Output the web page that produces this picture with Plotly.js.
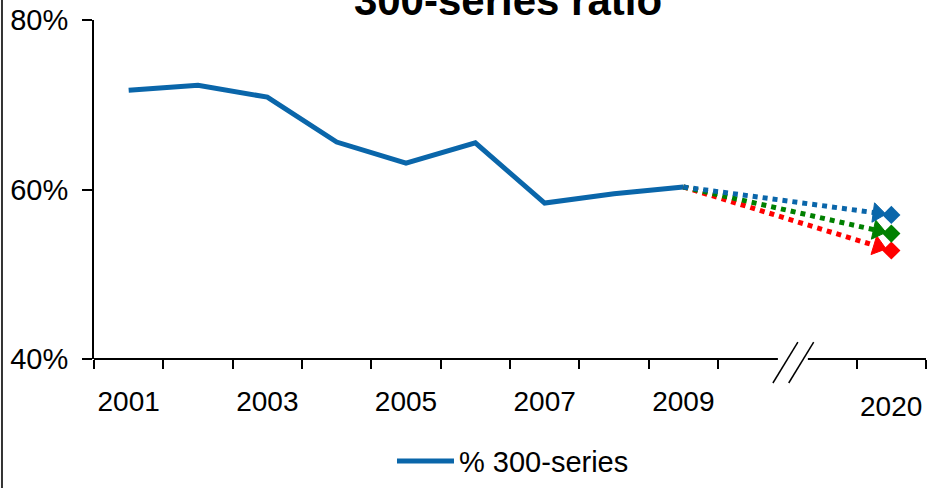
<!DOCTYPE html>
<html>
<head>
<meta charset="utf-8">
<script src="https://cdn.plot.ly/plotly-3.0.1.min.js"></script>
<style>
  html, body { margin: 0; padding: 0; background: #fff; }
  #chart { width: 949px; height: 488px; }
</style>
</head>
<body>
<div id="chart"></div>
<script>
// ---- data ----
const categories = ['2001','2002','2003','2004','2005','2006','2007','2008','2009','gap-a','gap-b','2020'];
const years = ['2001','2002','2003','2004','2005','2006','2007','2008','2009'];
const share300 = [71.7, 72.3, 70.9, 65.6, 63.1, 65.5, 58.4, 59.5, 60.3];
const projYears = ['2009', '2020'];
const projHigh = [60.3, 57.0];
const projMid  = [60.3, 54.8];
const projLow  = [60.3, 52.8];
const tickLabels = ['2001','2003','2005','2007','2009'];
const lastLabel = '2020';
const yTicks = [40, 60, 80];

// ---- styles ----
const BLUE = '#0a66aa', GREEN = '#008000', RED = '#ff0000';
const FONT = 'Liberation Sans, Arial, sans-serif';
const pos = list => list.map(c => categories.indexOf(c));

function projLine(y, color) {
  return { x: pos(projYears), y: y, type: 'scatter', mode: 'lines+markers', showlegend: false,
    line: { color: color, width: 5, dash: 'dot' },
    marker: { color: color, opacity: 1, symbol: ['circle', 'triangle-up'], size: [0, 17], angleref: 'previous',
              standoff: [0, 14], line: { width: 1, color: color } },
    hoverinfo: 'skip' };
}
function diamond(y, color) {
  return { x: pos([projYears[1]]), y: [y[1]], type: 'scatter', mode: 'markers', showlegend: false,
    marker: { color: color, symbol: 'diamond', size: 14, line: { width: 0 } }, hoverinfo: 'skip' };
}

const traces = [
  { x: pos(years), y: share300, type: 'scatter', mode: 'lines', name: '% 300-series',
    line: { color: BLUE, width: 5 } },
  projLine(projLow, RED), projLine(projMid, GREEN), projLine(projHigh, BLUE),
  diamond(projLow, RED), diamond(projMid, GREEN), diamond(projHigh, BLUE)
];

// tick marks on the boundaries between categories (no tick at the axis break)
const boundaries = [];
for (let i = 0; i <= categories.length; i++) {
  const b = i - 0.5;
  if (b !== 9.5) boundaries.push(b);
}

const layout = {
  width: 949, height: 488,
  margin: { l: 94, r: 23, t: 20, b: 129, autoexpand: false },
  paper_bgcolor: '#fff', plot_bgcolor: '#fff',
  font: { family: FONT, color: '#000' },
  title: { text: '300-series ratio', font: { family: FONT, size: 42, weight: 'bold', color: '#000' },
           x: 0.5353, xanchor: 'center', y: 1.0, yanchor: 'middle', yref: 'container' },
  showlegend: true,
  legend: { orientation: 'h', x: 0.5036, xanchor: 'center', y: -0.301, yanchor: 'middle',
            font: { family: FONT, size: 29, color: '#000' }, itemwidth: 57, bgcolor: 'rgba(0,0,0,0)' },
  xaxis: { type: 'linear', range: [-0.5, categories.length - 0.5],
           tickmode: 'array', tickvals: pos(tickLabels), ticktext: tickLabels,
           ticks: '', ticklabelstandoff: 23,
           tickfont: { family: FONT, size: 28, color: '#000' },
           minor: { tickmode: 'array', tickvals: boundaries, ticks: 'outside', ticklen: 9,
                    tickwidth: 2, tickcolor: '#000', showgrid: false },
           showline: false, showgrid: false, zeroline: false, fixedrange: true },
  yaxis: { range: [40, 80], tickmode: 'array', tickvals: yTicks, ticktext: yTicks.map(v => v + '%'),
           ticks: 'outside', ticklen: 10, tickwidth: 2, tickcolor: '#000',
           showline: true, linewidth: 2, linecolor: '#000', ticklabelstandoff: 8,
           tickfont: { family: FONT, size: 29, color: '#000' },
           showgrid: false, zeroline: false, fixedrange: true },
  annotations: [
    { text: lastLabel, x: categories.indexOf(lastLabel), xref: 'x', y: -0.1407, yref: 'paper',
      xanchor: 'center', yanchor: 'middle', showarrow: false,
      font: { family: FONT, size: 28, color: '#000' } }
  ],
  shapes: [
    // x axis line with a break
    { type: 'line', xref: 'paper', yref: 'paper', x0: 0, x1: 0.822, y0: 0, y1: 0, line: { color: '#000', width: 2 } },
    { type: 'line', xref: 'paper', yref: 'paper', x0: 0.858, x1: 1, y0: 0, y1: 0, line: { color: '#000', width: 2 } },
    // break slashes
    { type: 'line', xref: 'paper', yref: 'paper', x0: 0.816, y0: -0.0708, x1: 0.846, y1: 0.0501, line: { color: '#000', width: 1.5 } },
    { type: 'line', xref: 'paper', yref: 'paper', x0: 0.835, y0: -0.0708, x1: 0.865, y1: 0.0501, line: { color: '#000', width: 1.5 } },
    // outer frame (left edge)
    { type: 'line', xref: 'paper', yref: 'paper', x0: -0.1106, x1: -0.1106, y0: -0.40, y1: 1.1, line: { color: '#333', width: 2 } }
  ]
};

Plotly.newPlot('chart', traces, layout, { staticPlot: true, displayModeBar: false });
</script>
</body>
</html>
